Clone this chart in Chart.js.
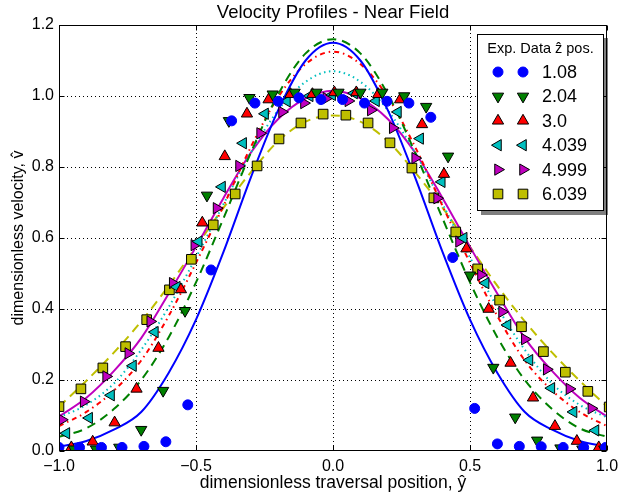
<!DOCTYPE html>
<html>
<head>
<meta charset="utf-8">
<script src="https://cdn.jsdelivr.net/npm/chart.js@4"></script>
<style>
  body { margin: 0; background: #fff; }
</style>
</head>
<body>
<canvas id="chart" width="630" height="495"></canvas>
<script>
// tick values
const xTicks = [-1, -0.5, 0, 0.5, 1];
const yTicks = [0, 0.2, 0.4, 0.6, 0.8, 1.0, 1.2];

// legend labels (z position)
const seriesLabels = ['1.08', '2.04', '3.0', '4.039', '4.999', '6.039'];

// fitted profiles, sampled every 0.1
const lineX = [-1, -0.9, -0.8, -0.7, -0.6, -0.5, -0.4, -0.3, -0.2, -0.1, 0, 0.1, 0.2, 0.3, 0.4, 0.5, 0.6, 0.7, 0.8, 0.9, 1];
const blueLine = [0.012, 0.028, 0.06, 0.11, 0.22, 0.37, 0.56, 0.77, 0.96, 1.10, 1.15, 1.10, 0.96, 0.77, 0.56, 0.37, 0.22, 0.11, 0.06, 0.028, 0.012];
const greenLine = [0.04, 0.064, 0.118, 0.20, 0.32, 0.475, 0.655, 0.84, 1.005, 1.12, 1.16, 1.12, 1.005, 0.84, 0.655, 0.475, 0.32, 0.20, 0.118, 0.064, 0.04];
const redLine = [0.07, 0.11, 0.17, 0.255, 0.38, 0.53, 0.69, 0.856, 0.997, 1.09, 1.125, 1.09, 0.997, 0.856, 0.69, 0.53, 0.38, 0.255, 0.17, 0.11, 0.07];
const cyanLine = [0.095, 0.13, 0.19, 0.285, 0.405, 0.545, 0.695, 0.84, 0.96, 1.04, 1.07, 1.04, 0.96, 0.84, 0.695, 0.545, 0.405, 0.285, 0.19, 0.13, 0.095];
const magentaLine = [0.097, 0.15, 0.225, 0.318, 0.443, 0.575, 0.712, 0.84, 0.935, 0.993, 1.015, 0.993, 0.935, 0.84, 0.712, 0.575, 0.443, 0.318, 0.225, 0.15, 0.097];
const yellowLine = [0.125, 0.198, 0.277, 0.365, 0.465, 0.575, 0.685, 0.785, 0.873, 0.928, 0.945, 0.928, 0.873, 0.785, 0.685, 0.575, 0.465, 0.365, 0.277, 0.198, 0.125];

// experimental data
const blueX = [-1.0, -0.925, -0.845, -0.77, -0.69, -0.61, -0.53, -0.445, -0.37, -0.285, -0.2, -0.124, -0.044, 0.035, 0.115, 0.197, 0.277, 0.357, 0.437, 0.517, 0.6, 0.68, 0.76, 0.84, 0.915, 0.995];
const blueY = [0.01, 0.01, 0.01, 0.01, 0.013, 0.026, 0.13, 0.51, 0.93, 0.98, 0.985, 0.995, 0.99, 0.99, 0.98, 0.985, 0.98, 0.94, 0.545, 0.12, 0.02, 0.013, 0.012, 0.01, 0.01, 0.01];
const greenX = [-0.945, -0.865, -0.78, -0.70, -0.62, -0.54, -0.46, -0.38, -0.305, -0.22, -0.14, -0.06, 0.02, 0.10, 0.18, 0.26, 0.34, 0.42, 0.50, 0.585, 0.665, 0.745, 0.83, 0.91, 0.99];
const greenY = [0.005, 0.005, 0.01, 0.06, 0.17, 0.395, 0.72, 0.93, 0.995, 1.005, 1.01, 1.01, 1.01, 1.01, 1.01, 1.0, 0.97, 0.83, 0.495, 0.235, 0.095, 0.03, 0.008, 0.005, 0.005];
const redX = [-0.955, -0.877, -0.797, -0.717, -0.637, -0.555, -0.477, -0.395, -0.314, -0.235, -0.155, -0.075, 0.005, 0.085, 0.165, 0.245, 0.325, 0.405, 0.487, 0.568, 0.648, 0.73, 0.81, 0.89, 0.97];
const redY = [0.01, 0.026, 0.08, 0.175, 0.29, 0.455, 0.643, 0.83, 0.95, 0.99, 1.005, 1.005, 1.01, 1.01, 1.005, 0.99, 0.92, 0.78, 0.57, 0.40, 0.248, 0.15, 0.07, 0.028, 0.01];
const cyanX = [-0.973, -0.89, -0.81, -0.73, -0.65, -0.57, -0.49, -0.405, -0.328, -0.248, -0.168, -0.085, -0.003, 0.077, 0.157, 0.237, 0.318, 0.397, 0.477, 0.557, 0.637, 0.717, 0.797, 0.878, 0.958];
const cyanY = [0.05, 0.093, 0.157, 0.24, 0.335, 0.462, 0.59, 0.744, 0.867, 0.95, 0.985, 1.0, 1.003, 1.008, 0.986, 0.955, 0.88, 0.758, 0.60, 0.473, 0.355, 0.256, 0.177, 0.11, 0.058];
const magentaX = [-0.99, -0.91, -0.828, -0.747, -0.667, -0.585, -0.506, -0.425, -0.343, -0.266, -0.186, -0.106, -0.024, 0.056, 0.138, 0.218, 0.30, 0.38, 0.46, 0.54, 0.617, 0.70, 0.78, 0.863, 0.943];
const magentaY = [0.088, 0.139, 0.21, 0.275, 0.365, 0.473, 0.58, 0.684, 0.803, 0.895, 0.955, 0.98, 0.994, 0.986, 0.96, 0.91, 0.825, 0.712, 0.59, 0.496, 0.392, 0.315, 0.23, 0.175, 0.12];
const yellowX = [-1.0, -0.92, -0.84, -0.757, -0.68, -0.597, -0.517, -0.437, -0.357, -0.277, -0.197, -0.117, -0.036, 0.047, 0.128, 0.208, 0.288, 0.368, 0.448, 0.528, 0.608, 0.688, 0.768, 0.848, 0.93, 1.008];
const yellowY = [0.125, 0.175, 0.234, 0.294, 0.37, 0.454, 0.54, 0.637, 0.724, 0.803, 0.879, 0.924, 0.949, 0.946, 0.924, 0.868, 0.797, 0.713, 0.617, 0.513, 0.425, 0.35, 0.28, 0.222, 0.168, 0.124];

(() => {
    const FONT = "'Liberation Sans', Arial, sans-serif";

    const series = [
        { x: blueX, y: blueY, line: blueLine, color: '#0000ff', edge: '#0000ff', style: 'circle', rot: 0, r: 5, dash: [] },
        { x: greenX, y: greenY, line: greenLine, color: '#008000', edge: '#000', style: 'triangle', rot: 180, r: 6.5, dash: [9, 6] },
        { x: redX, y: redY, line: redLine, color: '#ff0000', edge: '#000', style: 'triangle', rot: 0, r: 6.5, dash: [5, 4, 1.5, 4] },
        { x: cyanX, y: cyanY, line: cyanLine, color: '#00bfbf', edge: '#000', style: 'triangle', rot: 270, r: 6.5, dash: [1.5, 3.5] },
        { x: magentaX, y: magentaY, line: magentaLine, color: '#bf00bf', edge: '#000', style: 'triangle', rot: 90, r: 6.5, dash: [] },
        { x: yellowX, y: yellowY, line: yellowLine, color: '#bfbf00', edge: '#000', style: 'rect', rot: 0, r: 6.8, dash: [9, 6] }
    ];

    const pts = (xs, ys) => xs.map((x, i) => ({ x, y: ys[i] }));

    let datasets = [];
    // markers first so they are painted on top of the curves
    for (let s of series) {
        datasets.push({
            data: pts(s.x, s.y),
            showLine: false,
            pointStyle: s.style,
            pointRotation: s.rot,
            pointRadius: s.r,
            pointBackgroundColor: s.color,
            pointBorderColor: s.edge,
            pointBorderWidth: 1,
            clip: 0
        });
    }
    for (let s of series) {
        datasets.push({
            data: pts(lineX, s.line),
            showLine: true,
            pointRadius: 0,
            borderColor: s.color,
            borderWidth: 2,
            borderDash: s.dash,
            cubicInterpolationMode: 'monotone',
            fill: false,
            clip: 0
        });
    }

    function marker(ctx, style, rot, r, x, y) {
        ctx.beginPath();
        if (style === 'circle') {
            ctx.arc(x, y, r, 0, Math.PI * 2);
        } else if (style === 'rect') {
            let h = r * Math.SQRT1_2;
            ctx.rect(x - h, y - h, 2 * h, 2 * h);
        } else {
            let a = rot * Math.PI / 180;
            for (let k = 0; k < 3; k++) {
                let px = x + Math.sin(a) * r, py = y - Math.cos(a) * r;
                k ? ctx.lineTo(px, py) : ctx.moveTo(px, py);
                a += Math.PI * 2 / 3;
            }
            ctx.closePath();
        }
        ctx.fill();
        ctx.stroke();
    }

    const decor = {
        id: 'decor',
        beforeDatasetsDraw(chart) {
            const { ctx, chartArea: a, scales: { x, y } } = chart;
            ctx.save();
            ctx.strokeStyle = '#000';
            ctx.lineWidth = 1;
            ctx.setLineDash([1, 3]);
            for (let v of xTicks.slice(1, -1)) {
                let p = Math.round(x.getPixelForValue(v)) + 0.5;
                ctx.beginPath(); ctx.moveTo(p, a.top); ctx.lineTo(p, a.bottom); ctx.stroke();
            }
            for (let v of yTicks.slice(1, -1)) {
                let p = Math.round(y.getPixelForValue(v)) + 0.5;
                ctx.beginPath(); ctx.moveTo(a.left, p); ctx.lineTo(a.right, p); ctx.stroke();
            }
            ctx.restore();
        },
        afterDatasetsDraw(chart) {
            const { ctx, chartArea: a, scales: { x, y } } = chart;
            ctx.save();
            ctx.strokeStyle = '#000';
            ctx.lineWidth = 1;
            ctx.setLineDash([]);
            let L = Math.round(a.left) + 0.5, R = Math.round(a.right) - 0.5;
            let T = Math.round(a.top) + 0.5, B = Math.round(a.bottom) - 0.5;
            ctx.strokeRect(L, T, R - L, B - T);
            ctx.beginPath();
            for (let v of xTicks) {
                let p = Math.round(x.getPixelForValue(v)) + 0.5;
                ctx.moveTo(p, B); ctx.lineTo(p, B - 5);
                ctx.moveTo(p, T); ctx.lineTo(p, T + 5);
            }
            for (let v of yTicks) {
                let p = Math.round(y.getPixelForValue(v)) + 0.5;
                ctx.moveTo(L, p); ctx.lineTo(L + 5, p);
                ctx.moveTo(R, p); ctx.lineTo(R - 5, p);
            }
            ctx.stroke();

            // title
            ctx.fillStyle = '#000';
            ctx.font = '18.5px ' + FONT;
            ctx.textAlign = 'center';
            ctx.textBaseline = 'middle';
            ctx.fillText('Velocity Profiles - Near Field', (a.left + a.right) / 2, 13);

            // legend with shadow
            let lx = 477, ly = 34, lw = 127, lh = 177;
            ctx.fillStyle = 'rgba(0,0,0,0.5)';
            ctx.fillRect(lx + 4, ly + 4, lw, lh);
            ctx.fillStyle = '#fff';
            ctx.fillRect(lx, ly, lw, lh);
            ctx.strokeRect(lx + 0.5, ly + 0.5, lw - 1, lh - 1);
            ctx.fillStyle = '#000';
            ctx.font = '14.5px ' + FONT;
            ctx.fillText('Exp. Data ẑ pos.', lx + lw / 2, 49);
            ctx.textAlign = 'left';
            ctx.font = '18px ' + FONT;
            series.forEach((s, i) => {
                let ry = 72 + i * 24.4;
                ctx.fillStyle = s.color;
                ctx.strokeStyle = s.edge;
                marker(ctx, s.style, s.rot, s.r, 498, ry);
                marker(ctx, s.style, s.rot, s.r, 523, ry);
                ctx.fillStyle = '#000';
                ctx.fillText(seriesLabels[i], 542, ry + 1);
            });
            ctx.restore();
        }
    };

    let cv = document.getElementById('chart');
    new Chart(cv.getContext('2d'), {
        type: 'scatter',
        data: { datasets },
        options: {
            responsive: false,
            animation: false,
            devicePixelRatio: 1,
            layout: { padding: { top: 25, right: 23, left: 0, bottom: 0 } },
            plugins: { legend: { display: false }, tooltip: { enabled: false }, title: { display: false } },
            scales: {
                x: {
                    type: 'linear', min: -1, max: 1,
                    afterFit: (s) => { s.height = 44; },
                    grid: { display: false, drawTicks: false },
                    border: { display: false },
                    ticks: {
                        stepSize: 0.5, padding: 6, color: '#000',
                        font: { family: FONT, size: 16 },
                        callback: (v) => (v < 0 ? '\u2212' : '') + Math.abs(v).toFixed(1)
                    },
                    title: {
                        display: true, text: 'dimensionless traversal position, ŷ', color: '#000',
                        font: { family: FONT, size: 17.5 }, padding: { top: 0, bottom: 1 }
                    }
                },
                y: {
                    min: 0, max: 1.2,
                    afterFit: (s) => { s.width = 59; },
                    grid: { display: false, drawTicks: false },
                    border: { display: false },
                    ticks: {
                        stepSize: 0.2, padding: 5, color: '#000',
                        font: { family: FONT, size: 16 },
                        callback: (v) => v.toFixed(1)
                    },
                    title: {
                        display: true, text: 'dimensionless velocity, v\u0302', color: '#000',
                        font: { family: FONT, size: 16 }, padding: { top: 9, bottom: 0 }
                    }
                }
            }
        },
        plugins: [decor]
    });
})();
</script>
</body>
</html>
